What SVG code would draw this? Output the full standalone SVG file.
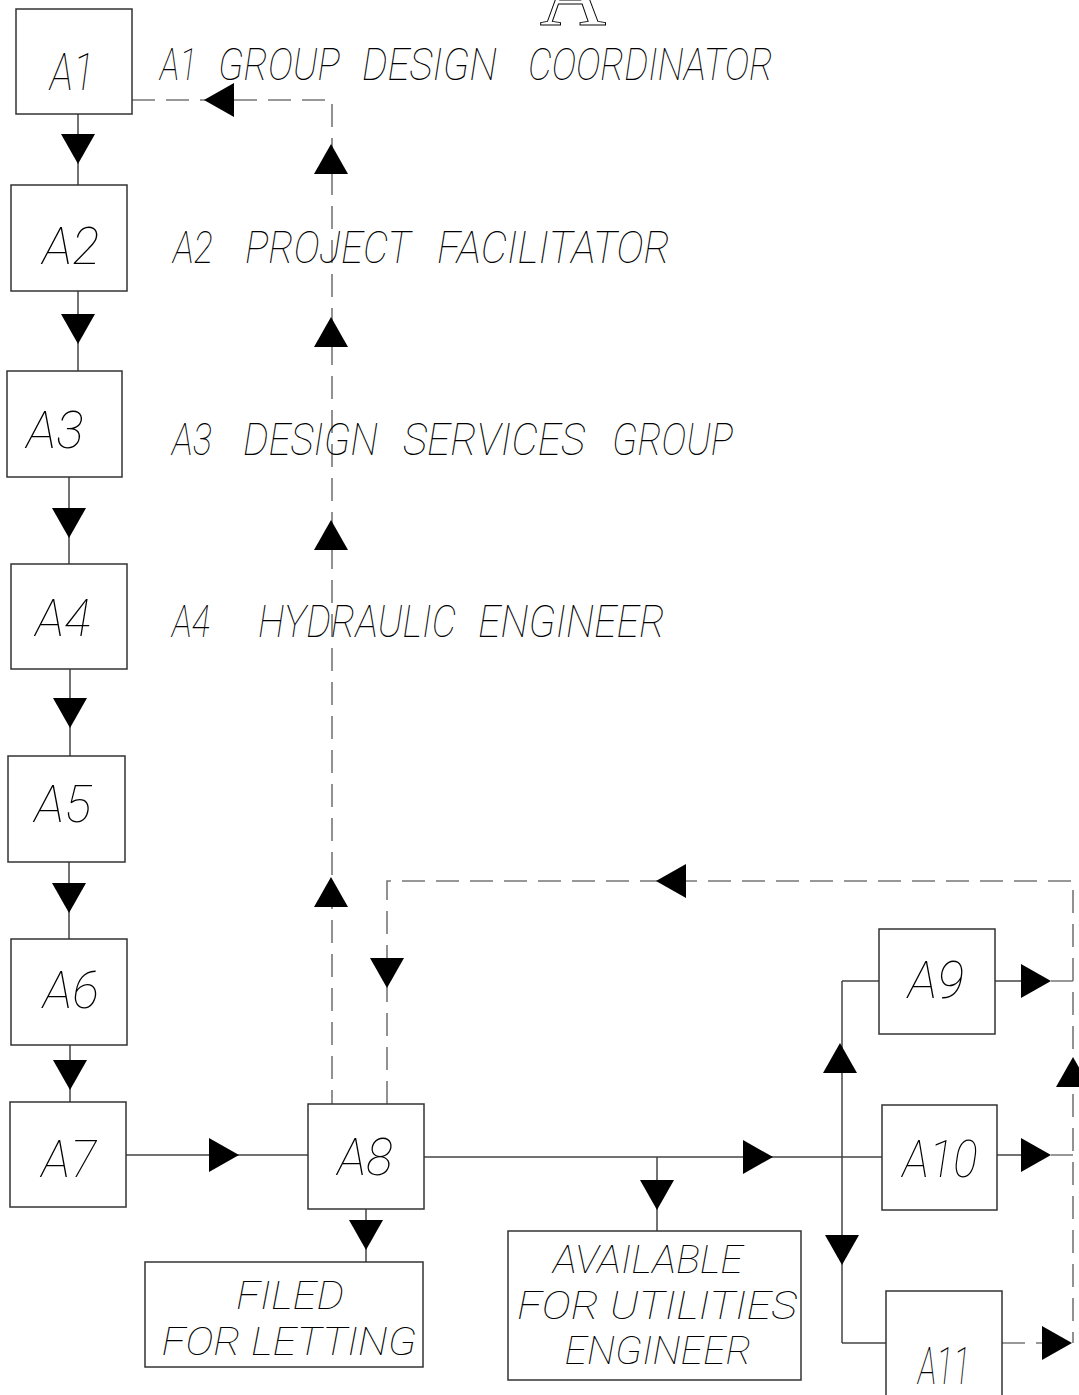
<svg xmlns="http://www.w3.org/2000/svg" xmlns:xlink="http://www.w3.org/1999/xlink" width="1079" height="1395" viewBox="0 0 1079 1395">
<style>
.box{fill:#fff;stroke:#333;stroke-width:1.5}
.ln{fill:none;stroke:#444;stroke-width:1.5}
.dash{fill:none;stroke:#777;stroke-width:1.6;stroke-dasharray:23 11}
.t{font-family:Roboto,"Liberation Sans",sans-serif;font-style:italic;font-weight:100;fill:#000}
.lbl{font-size:52px;text-anchor:middle}
.ml{font-size:38px;text-anchor:middle}
.ttl{font-size:44px}
</style>
<defs>
<path id="tri" d="M0,0 L-30,-17 L-30,17 Z" fill="#000"/>
</defs>
<rect width="1079" height="1395" fill="#fff"/>
<text x="573" y="25" font-family="'Liberation Serif',serif" font-size="92" text-anchor="middle" fill="none" stroke="#000" stroke-width="1">A</text>

<g id="connectors">
<path class="ln" d="M78,114V185 M78,291V371 M69,477V564 M70,669V756 M69,862V939 M70,1045V1102 M126,1155H308 M366,1209V1262 M424,1157H882 M657,1157V1231 M842,981V1343 M842,981H879 M842,1343H886 M995,981H1021 M997,1155H1022"/>
<path class="dash" d="M132,100H332V1104"/>
<path class="dash" d="M387,1104V881H1073V1343"/>
<path class="dash" d="M1051,981H1073 M1051,1155H1073 M1002,1343H1043"/>
<use xlink:href="#tri" transform="translate(78,164) rotate(90)"/>
<use xlink:href="#tri" transform="translate(78,344) rotate(90)"/>
<use xlink:href="#tri" transform="translate(69,538) rotate(90)"/>
<use xlink:href="#tri" transform="translate(70,728) rotate(90)"/>
<use xlink:href="#tri" transform="translate(69,913) rotate(90)"/>
<use xlink:href="#tri" transform="translate(70,1090) rotate(90)"/>
<use xlink:href="#tri" transform="translate(239,1155)"/>
<use xlink:href="#tri" transform="translate(366,1250) rotate(90)"/>
<use xlink:href="#tri" transform="translate(773,1157)"/>
<use xlink:href="#tri" transform="translate(657,1210) rotate(90)"/>
<use xlink:href="#tri" transform="translate(840,1043) rotate(-90)"/>
<use xlink:href="#tri" transform="translate(842,1265) rotate(90)"/>
<use xlink:href="#tri" transform="translate(1051,981)"/>
<use xlink:href="#tri" transform="translate(1051,1155)"/>
<use xlink:href="#tri" transform="translate(1072,1343)"/>
<use xlink:href="#tri" transform="translate(204,100) rotate(180)"/>
<use xlink:href="#tri" transform="translate(331,144) rotate(-90)"/>
<use xlink:href="#tri" transform="translate(331,317) rotate(-90)"/>
<use xlink:href="#tri" transform="translate(331,520) rotate(-90)"/>
<use xlink:href="#tri" transform="translate(331,877) rotate(-90)"/>
<use xlink:href="#tri" transform="translate(656,881) rotate(180)"/>
<use xlink:href="#tri" transform="translate(387,988) rotate(90)"/>
<use xlink:href="#tri" transform="translate(1073,1057) rotate(-90)"/>
</g>

<g id="A1"><rect class="box" x="16" y="9" width="116" height="105"/><text class="t lbl" x="72" y="90" font-size="62" textLength="44" lengthAdjust="spacingAndGlyphs">A1</text></g>
<g id="A2"><rect class="box" x="11" y="185" width="116" height="106"/><text class="t lbl" x="71" y="264" textLength="57" lengthAdjust="spacingAndGlyphs">A2</text></g>
<g id="A3"><rect class="box" x="7" y="371" width="115" height="106"/><text class="t lbl" x="55" y="448" textLength="57" lengthAdjust="spacingAndGlyphs">A3</text></g>
<g id="A4"><rect class="box" x="11" y="564" width="116" height="105"/><text class="t lbl" x="63" y="636" textLength="55" lengthAdjust="spacingAndGlyphs">A4</text></g>
<g id="A5"><rect class="box" x="8" y="756" width="117" height="106"/><text class="t lbl" x="63" y="822" textLength="57" lengthAdjust="spacingAndGlyphs">A5</text></g>
<g id="A6"><rect class="box" x="11" y="939" width="116" height="106"/><text class="t lbl" x="71" y="1008" textLength="56" lengthAdjust="spacingAndGlyphs">A6</text></g>
<g id="A7"><rect class="box" x="10" y="1102" width="116" height="105"/><text class="t lbl" x="69" y="1177" textLength="55" lengthAdjust="spacingAndGlyphs">A7</text></g>
<g id="A8"><rect class="box" x="308" y="1104" width="116" height="105"/><text class="t lbl" x="365" y="1175" textLength="55" lengthAdjust="spacingAndGlyphs">A8</text></g>
<g id="A9"><rect class="box" x="879" y="929" width="116" height="105"/><text class="t lbl" x="936" y="998" textLength="56" lengthAdjust="spacingAndGlyphs">A9</text></g>
<g id="A10"><rect class="box" x="882" y="1105" width="115" height="105"/><text class="t lbl" x="940" y="1177" textLength="75" lengthAdjust="spacingAndGlyphs">A10</text></g>
<g id="A11"><rect class="box" x="886" y="1291" width="116" height="110"/><text class="t lbl" x="944" y="1384" font-size="48" textLength="52" lengthAdjust="spacingAndGlyphs">A11</text></g>
<g id="filed"><rect class="box" x="145" y="1262" width="278" height="105"/><text class="t ml" x="290" y="1309" textLength="108" lengthAdjust="spacingAndGlyphs">FILED</text><text class="t ml" x="289" y="1355" textLength="255" lengthAdjust="spacingAndGlyphs">FOR LETTING</text></g>
<g id="available"><rect class="box" x="508" y="1231" width="293" height="149"/><text class="t ml" x="648" y="1273" textLength="190" lengthAdjust="spacingAndGlyphs">AVAILABLE</text><text class="t ml" x="657" y="1319" textLength="280" lengthAdjust="spacingAndGlyphs">FOR UTILITIES</text><text class="t ml" x="658" y="1364" textLength="187" lengthAdjust="spacingAndGlyphs">ENGINEER</text></g>

<g id="titles">
<text class="t ttl" y="80"><tspan x="160" textLength="37" lengthAdjust="spacingAndGlyphs">A1</tspan> <tspan x="218" textLength="122" lengthAdjust="spacingAndGlyphs">GROUP</tspan> <tspan x="362" textLength="135" lengthAdjust="spacingAndGlyphs">DESIGN</tspan> <tspan x="528" textLength="245" lengthAdjust="spacingAndGlyphs">COORDINATOR</tspan></text>
<text class="t ttl" y="263"><tspan x="173" textLength="40" lengthAdjust="spacingAndGlyphs">A2</tspan> <tspan x="245" textLength="165" lengthAdjust="spacingAndGlyphs">PROJECT</tspan> <tspan x="437" textLength="233" lengthAdjust="spacingAndGlyphs">FACILITATOR</tspan></text>
<text class="t ttl" y="455"><tspan x="172" textLength="40" lengthAdjust="spacingAndGlyphs">A3</tspan> <tspan x="243" textLength="135" lengthAdjust="spacingAndGlyphs">DESIGN</tspan> <tspan x="403" textLength="182" lengthAdjust="spacingAndGlyphs">SERVICES</tspan> <tspan x="612" textLength="121" lengthAdjust="spacingAndGlyphs">GROUP</tspan></text>
<text class="t ttl" y="637"><tspan x="172" textLength="38" lengthAdjust="spacingAndGlyphs">A4</tspan> <tspan x="258" textLength="198" lengthAdjust="spacingAndGlyphs">HYDRAULIC</tspan> <tspan x="478" textLength="187" lengthAdjust="spacingAndGlyphs">ENGINEER</tspan></text>
</g>
</svg>
